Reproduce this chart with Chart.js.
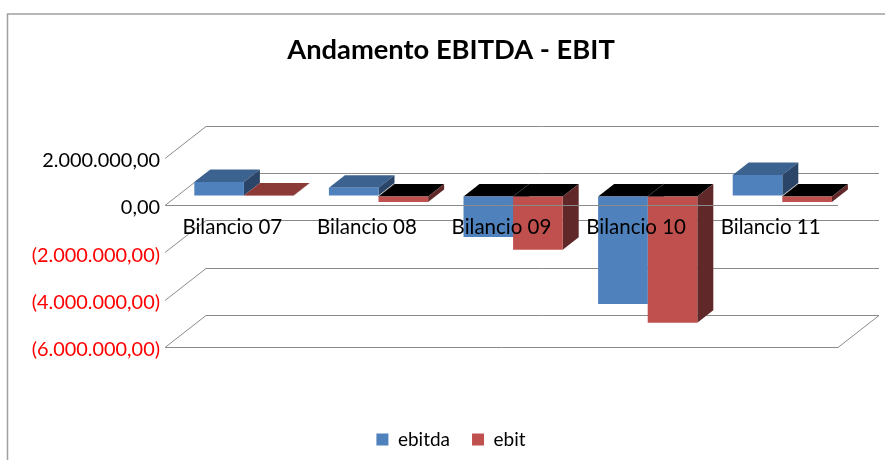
<!DOCTYPE html>
<html>
<head>
<meta charset="utf-8">
<title>Andamento EBITDA - EBIT</title>
<script src="https://cdn.jsdelivr.net/npm/chart.js@4"></script>
<style>
    html, body { margin: 0; padding: 0; background: #fff; overflow: hidden; }
    canvas { display: block; }
</style>
</head>
<body>
<canvas id="chart" width="885" height="460"></canvas>
<script>
const categories = ['Bilancio 07', 'Bilancio 08', 'Bilancio 09', 'Bilancio 10', 'Bilancio 11'];
const ebitda = [600000, 350000, -1730000, -4560000, 890000];
const ebit = [15000, -250000, -2270000, -5360000, -250000];
// from the lowest tick to the highest
const yTickLabels = ['(6.000.000,00)', '(4.000.000,00)', '(2.000.000,00)', '0,00', '2.000.000,00'];

const FONT = 'Lato, "Open Sans", sans-serif';
const GRID = '#8a8a8a';
// floor depth of the fake 3D box, and how far the bars sit inside it
const wallX = 41, wallY = 32;
const barX = 11.6, barY = 9;
const depthX = 16, depthY = 12.5;

const faces = [
    { front: '#4f81bd', top: '#3c6290', side: '#2a4567' },
    { front: '#c0504d', top: '#8c3a38', side: '#602828' }
];

function fillPoly(ctx, pts, color) {
    ctx.fillStyle = color;
    ctx.beginPath();
    pts.forEach((p, i) => i ? ctx.lineTo(p[0], p[1]) : ctx.moveTo(p[0], p[1]));
    ctx.closePath();
    ctx.fill();
}

function line(ctx, x1, y1, x2, y2) {
    ctx.beginPath();
    ctx.moveTo(x1, y1);
    ctx.lineTo(x2, y2);
    ctx.stroke();
}

const box3d = {
    id: 'box3d',
    beforeDraw(chart) {
        const ctx = chart.ctx;
        ctx.save();
        ctx.strokeStyle = '#a0a0a0';
        ctx.lineWidth = 1.5;
        ctx.beginPath();
        ctx.moveTo(7.5, 460);
        ctx.lineTo(7.5, 14);
        ctx.lineTo(885, 14);
        ctx.stroke();
        ctx.restore();
    },
    beforeDatasetsDraw(chart) {
        const ctx = chart.ctx;
        const y = chart.scales.y;
        const left = chart.chartArea.left, right = chart.chartArea.right;

        // back wall lines and the diagonals on the left
        ctx.save();
        ctx.strokeStyle = GRID;
        ctx.lineWidth = 1;
        y.ticks.forEach(t => {
            const py = Math.round(y.getPixelForValue(t.value));
            line(ctx, left, py + 0.5, left + wallX, py - wallY + 0.5);
            line(ctx, left + wallX, py - wallY + 0.5, right + wallX, py - wallY + 0.5);
        });
        const low = Math.round(y.getPixelForValue(y.min));
        line(ctx, right, low + 0.5, right + wallX, low - wallY + 0.5);
        ctx.restore();

        // bars are moved inside the box, the library draws the front faces
        ctx.save();
        ctx.translate(barX, -barY);
        chart.data.datasets.forEach((ds, d) => {
            chart.getDatasetMeta(d).data.forEach((bar, i) => {
                const l = bar.x - bar.width / 2, r = bar.x + bar.width / 2;
                const t = Math.min(bar.y, bar.base), b = Math.max(bar.y, bar.base);
                const topColor = ds.data[i] < 0 ? '#000' : faces[d].top;
                fillPoly(ctx, [[l, t], [l + depthX, t - depthY], [r + depthX, t - depthY], [r, t]], topColor);
                fillPoly(ctx, [[r, t], [r + depthX, t - depthY], [r + depthX, b - depthY], [r, b]], faces[d].side);
                if (ds.data[i] < 0 && d > 0) {
                    ctx.strokeStyle = '#3a3a3a';
                    ctx.lineWidth = 0.6;
                    line(ctx, l, t, l + depthX, t - depthY);
                }
            });
        });
    },
    afterDatasetsDraw(chart) {
        chart.ctx.restore();
    }
};

new Chart(document.getElementById('chart'), {
    type: 'bar',
    data: {
        labels: categories,
        datasets: [
            { label: 'ebitda', data: ebitda, backgroundColor: faces[0].front, yAxisID: 'y' },
            { label: 'ebit', data: ebit, backgroundColor: faces[1].front, yAxisID: 'y' }
        ]
    },
    plugins: [box3d],
    options: {
        responsive: false,
        animation: false,
        categoryPercentage: 0.737,
        barPercentage: 1,
        layout: { padding: { left: 17, right: 0, top: 0, bottom: 1 } },
        plugins: {
            tooltip: { enabled: false },
            title: {
                display: true,
                text: 'Andamento EBITDA - EBIT',
                color: '#000',
                font: { family: FONT, size: 27.3, weight: 'bold' },
                padding: { top: 34, bottom: 91 }
            },
            legend: {
                position: 'bottom',
                title: { display: true, text: '', padding: { top: 46.6, bottom: 0 } },
                labels: {
                    color: '#000',
                    font: { family: FONT, size: 19 },
                    boxWidth: 12,
                    boxHeight: 12,
                    padding: 22
                }
            }
        },
        scales: {
            x: {
                position: { y: 0 },
                grid: { display: false },
                border: { display: false },
                ticks: {
                    z: 1,
                    color: '#000',
                    font: { family: FONT, size: 20.5 },
                    padding: 2,
                    maxRotation: 0
                }
            },
            y: {
                min: -6000000,
                max: 2000000,
                afterFit(scale) { scale.width = 148; },
                border: { display: false },
                grid: {
                    z: 1,
                    drawTicks: false,
                    color: ctx => (ctx.tick.value === 0 || ctx.tick.value === -6000000) ? GRID : 'rgba(0,0,0,0)'
                },
                ticks: {
                    stepSize: 2000000,
                    padding: 5,
                    labelOffset: 3,
                    font: { family: FONT, size: 19.9 },
                    color: ctx => ctx.tick.value < 0 ? '#ff0000' : '#000',
                    callback: (value, index) => yTickLabels[index]
                }
            },
            // empty axis, only keeps the room on the right for the box depth
            yRoom: {
                position: 'right',
                afterFit(scale) { scale.width = 47; },
                border: { display: false },
                grid: { display: false },
                ticks: { display: false }
            }
        }
    }
});
</script>
</body>
</html>
